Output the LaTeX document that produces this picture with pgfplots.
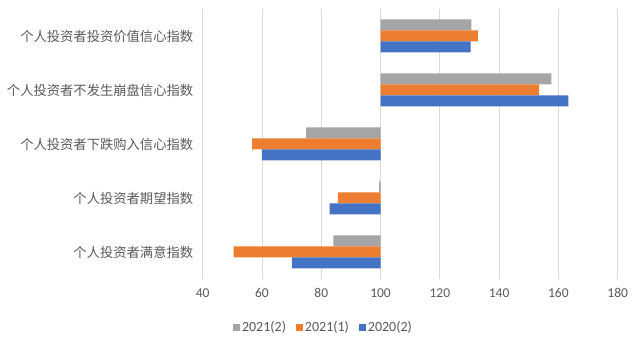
\documentclass[border=0pt]{standalone}
\usepackage{fontspec}
\setmainfont{Carlito}
\newfontfamily\cjk{Noto Sans CJK SC}
\usepackage{pgfplots}
\pgfplotsset{compat=1.18}
\definecolor{cgray}{HTML}{A5A5A5}
\definecolor{corange}{HTML}{ED7D31}
\definecolor{cblue}{HTML}{4472C4}
\definecolor{ctext}{HTML}{595959}
\definecolor{cgrid}{HTML}{D9D9D9}
\pgfplotsset{sq legend/.style={legend image code/.code={\fill[##1] (0bp,-3.5bp) rectangle (7bp,3.5bp);}}}
\begin{document}
\begin{tikzpicture}
\begin{axis}[
 scale only axis, width=415bp, height=270bp,
 xmin=40, xmax=180, ymin=-0.5, ymax=4.5,
 x coord trafo/.code={\pgfmathparse{#1-100}},
 x coord inv trafo/.code={\pgfmathparse{#1+100}},
 xtick={40,60,80,100,120,140,160,180},
 xticklabels={40,60,80,100,120,140,160,180},
 ytick={0,1,2,3,4},
 yticklabels={个人投资者满意指数,个人投资者期望指数,个人投资者下跌购入信心指数,个人投资者不发生崩盘信心指数,个人投资者投资价值信心指数},
 xmajorgrids, major grid style={cgrid, line width=0.75bp},
 axis line style={draw=none},
 major tick length=0pt,
 tick label style={font=\fontsize{13.5bp}{15bp}\selectfont, text=ctext},
 yticklabel style={font=\cjk\fontsize{13.3bp}{15bp}\selectfont, xshift=-6bp},
 xticklabel style={yshift=-6bp},
 xbar, bar width=11bp,
 legend style={at={(0.291,-0.178)}, anchor=center, draw=none, legend columns=-1,
   font=\fontsize{14bp}{16bp}\selectfont, text=ctext,
   /tikz/every even column/.append style={column sep=8bp}},
]
\addplot[fill=cgray, draw=none, bar shift=11bp, sq legend] coordinates {(84.1,0) (99.5,1) (74.9,2) (157.6,3) (130.6,4)};
\addlegendentry{2021(2)}
\addplot[fill=corange, draw=none, bar shift=0bp, sq legend] coordinates {(50.4,0) (85.6,1) (56.7,2) (153.5,3) (132.8,4)};
\addlegendentry{2021(1)}
\addplot[fill=cblue, draw=none, bar shift=-11bp, sq legend] coordinates {(70.1,0) (82.8,1) (60.0,2) (163.4,3) (130.4,4)};
\addlegendentry{2020(2)}
\coordinate (sw) at (rel axis cs:0,0);
\coordinate (ne) at (rel axis cs:1,1);
\end{axis}
\useasboundingbox ([shift={(-202.7bp,-71bp)}]sw) rectangle ([shift={(20.3bp,9bp)}]ne);
\end{tikzpicture}
\end{document}
